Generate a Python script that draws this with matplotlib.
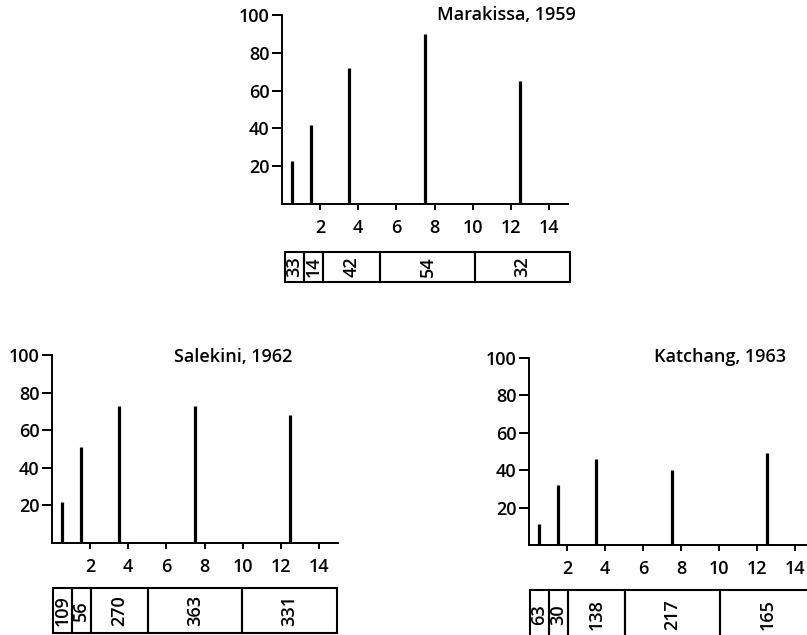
import numpy as np
import matplotlib
matplotlib.use("Agg")
import matplotlib.pyplot as plt
from matplotlib.patches import Rectangle

plt.rcParams['font.family'] = ['Open Sans', 'DejaVu Sans']
plt.rcParams['font.weight'] = 'semibold'

# age classes (years) and the share in each class, per site
age_edges = [0, 1, 2, 5, 10, 15]
x_ticks = [2, 4, 6, 8, 10, 12, 14]
y_ticks = [20, 40, 60, 80, 100]

marakissa_pct = [23, 42, 72, 90, 65]
marakissa_n = [33, 14, 42, 54, 32]
salekini_pct = [22, 51, 73, 73, 68]
salekini_n = [109, 56, 270, 363, 331]
katchang_pct = [11, 32, 46, 40, 49]
katchang_n = [63, 30, 138, 217, 165]

W, H = 807, 635
FS = 13
fig = plt.figure(figsize=(W / 100, H / 100), dpi=100)


def px_axes(left, top, right, bottom):
    return fig.add_axes([left / W, 1 - bottom / H, (right - left) / W, (bottom - top) / H])


def draw_panel(ax, pct, title, tx, ty):
    edges = np.array(age_edges)
    mids = (edges[:-1] + edges[1:]) / 2
    ax.vlines(mids, 0, pct, colors='black', lw=2.3)
    ax.set_xlim(0, 15)
    ax.set_ylim(0, 100)
    for s in ['top', 'right']:
        ax.spines[s].set_visible(False)
    for s in ['left', 'bottom']:
        ax.spines[s].set_linewidth(1.4)
    ax.set_xticks(x_ticks)
    ax.set_yticks(y_ticks)
    ax.tick_params(axis='x', length=4, width=1.4, pad=7, labelsize=FS)
    ax.tick_params(axis='y', length=7, width=1.4, pad=2, labelsize=FS)
    ax.text(tx, ty, title, ha='center', va='center', fontsize=FS)


def draw_boxes(ax, counts):
    ax.set_xlim(0, 15)
    ax.set_ylim(0, 1)
    ax.axis('off')
    for i, n in enumerate(counts):
        x0, x1 = age_edges[i], age_edges[i + 1]
        ax.add_patch(Rectangle((x0, 0), x1 - x0, 1, fill=False, ec='black',
                               lw=1.5, clip_on=False))
        ax.text((x0 + x1) / 2, 0.5, str(n), rotation=90, ha='center',
                va='center', fontsize=FS)


ax1 = px_axes(282, 15, 568, 204)
draw_panel(ax1, marakissa_pct, 'Marakissa, 1959', 11.75, 100)
box1 = px_axes(285, 252, 570, 282)
draw_boxes(box1, marakissa_n)

ax2 = px_axes(52, 355, 338, 543)
draw_panel(ax2, salekini_pct, 'Salekini, 1962', 9.5, 99)
box2 = px_axes(53, 588, 337, 633)
draw_boxes(box2, salekini_n)

ax3 = px_axes(529, 358, 814, 545)
draw_panel(ax3, katchang_pct, 'Katchang, 1963', 10.05, 100.5)
box3 = px_axes(530, 590, 815, 640)
draw_boxes(box3, katchang_n)

fig.savefig('out.png', dpi=100)
